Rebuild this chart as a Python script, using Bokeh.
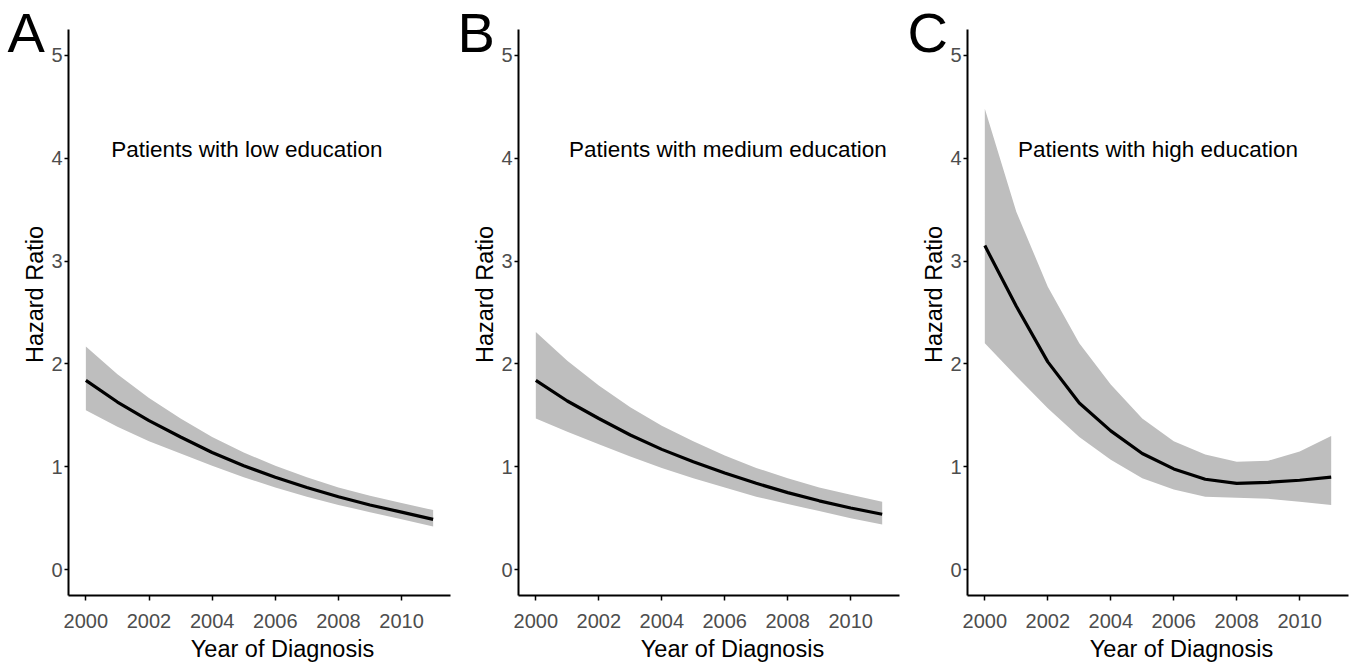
from bokeh.plotting import figure
from bokeh.layouts import row
from bokeh.models import Label, FixedTicker, Range1d
from bokeh.embed import file_html
from bokeh.resources import INLINE

# ---- data ----
years = [2000, 2001, 2002, 2003, 2004, 2005, 2006, 2007, 2008, 2009, 2010, 2011]

low_hr = [1.84, 1.63, 1.45, 1.29, 1.14, 1.01, 0.90, 0.80, 0.71, 0.63, 0.56, 0.49]
low_hi = [2.17, 1.90, 1.67, 1.47, 1.29, 1.14, 1.01, 0.90, 0.80, 0.72, 0.65, 0.58]
low_lo = [1.55, 1.39, 1.25, 1.13, 1.01, 0.90, 0.80, 0.71, 0.63, 0.56, 0.49, 0.42]

med_hr = [1.84, 1.64, 1.47, 1.31, 1.17, 1.05, 0.94, 0.84, 0.75, 0.67, 0.60, 0.54]
med_hi = [2.31, 2.03, 1.79, 1.58, 1.40, 1.25, 1.11, 0.99, 0.89, 0.80, 0.73, 0.66]
med_lo = [1.47, 1.34, 1.22, 1.10, 0.99, 0.89, 0.80, 0.71, 0.64, 0.57, 0.50, 0.44]

high_hr = [3.15, 2.56, 2.02, 1.62, 1.35, 1.13, 0.98, 0.88, 0.84, 0.85, 0.87, 0.90]
high_hi = [4.48, 3.48, 2.75, 2.20, 1.80, 1.47, 1.25, 1.12, 1.05, 1.06, 1.15, 1.30]
high_lo = [2.20, 1.88, 1.57, 1.29, 1.07, 0.89, 0.78, 0.71, 0.70, 0.69, 0.66, 0.63]

x_ticks = [2000, 2002, 2004, 2006, 2008, 2010]
y_ticks = [0, 1, 2, 3, 4, 5]

panel_letters = ["A", "B", "C"]
panel_notes = ["Patients with low education",
               "Patients with medium education",
               "Patients with high education"]
x_title = "Year of Diagnosis"
y_title = "Hazard Ratio"

FONT = "Liberation Sans"

# ---- layout geometry (pixels) ----
H = 664
AX_TOP, AX_BOTTOM = 29, 595          # y pixel of axis-box top / x-axis line
X_LO, X_HI = 1999.45, 2011.55        # axis extents (data)
Y_LO, Y_HI = -0.25, 5.25


def make_panel(letter, letter_x, note, note_x, hr, lo, hi, width, ax_left, ax_right):
    # the frame fills the whole canvas; the axes sit inside it at fixed locations
    sx = (ax_right - ax_left) / (X_HI - X_LO)
    sy = (AX_BOTTOM - AX_TOP) / (Y_HI - Y_LO)
    xr = Range1d(X_LO - ax_left / sx, X_HI + (width - ax_right) / sx)
    yr = Range1d(Y_LO - (H - AX_BOTTOM) / sy, Y_HI + AX_TOP / sy)

    p = figure(width=width, height=H, x_range=xr, y_range=yr,
               output_backend="svg", toolbar_location=None,
               min_border=0, min_border_left=0, min_border_right=0,
               min_border_top=0, min_border_bottom=0)
    p.xgrid.visible = False
    p.ygrid.visible = False
    p.outline_line_color = None
    p.background_fill_color = "white"
    p.border_fill_color = "white"

    p.xaxis.fixed_location = Y_LO
    p.yaxis.fixed_location = X_LO
    p.xaxis.bounds = (X_LO, X_HI)
    p.yaxis.bounds = (Y_LO, Y_HI)
    p.xaxis.ticker = FixedTicker(ticks=x_ticks)
    p.yaxis.ticker = FixedTicker(ticks=y_ticks)
    for ax in (p.xaxis, p.yaxis):
        ax.axis_line_width = 2
        ax.axis_line_color = "black"
        ax.major_tick_line_width = 1.5
        ax.major_tick_line_color = "black"
        ax.major_tick_in = 0
        ax.minor_tick_line_color = None
        ax.major_label_text_font = FONT
        ax.major_label_text_font_size = "20px"
        ax.major_label_text_color = "#4D4D4D"
    p.xaxis.major_tick_out = 5
    p.yaxis.major_tick_out = 4
    p.xaxis.major_label_standoff = 13
    p.yaxis.major_label_standoff = 2

    p.varea(x=years, y1=lo, y2=hi, fill_color="#BEBEBE", fill_alpha=1.0)
    p.line(x=years, y=hr, line_color="black", line_width=3.2, line_join="round")

    p.add_layout(Label(x=note_x, y=4.08, x_units="data", y_units="data", text=note,
                       text_font=FONT, text_font_size="22.5px", text_color="black",
                       text_align="center", text_baseline="alphabetic"))
    # panel letter
    p.add_layout(Label(x=letter_x, y=H, x_units="screen", y_units="screen",
                       text=letter, text_font=FONT, text_font_size="56px",
                       text_color="black", text_align="left", text_baseline="top"))
    # y title
    p.add_layout(Label(x=ax_left - 34, y=H - 294, x_units="screen", y_units="screen",
                       text=y_title, angle=1.5707963, text_font=FONT,
                       text_font_size="23.5px", text_color="black",
                       text_align="center", text_baseline="alphabetic"))
    # x title
    p.add_layout(Label(x=ax_left + 214, y=H - 648, x_units="screen", y_units="screen",
                       text=x_title, text_font=FONT, text_font_size="23.5px",
                       text_color="black", text_align="center", text_baseline="alphabetic"))
    return p


pa = make_panel(panel_letters[0], 7, panel_notes[0], 2005.1, low_hr, low_lo, low_hi, 457, 68, 450)
pb = make_panel(panel_letters[1], 0, panel_notes[1], 2006.1, med_hr, med_lo, med_hi, 449, 61, 442)
pc = make_panel(panel_letters[2], 1, panel_notes[2], 2005.5, high_hr, high_lo, high_hi, 446, 61, 442)

layout = row(pa, pb, pc)
open("out.html", "w").write(file_html(layout, INLINE))
